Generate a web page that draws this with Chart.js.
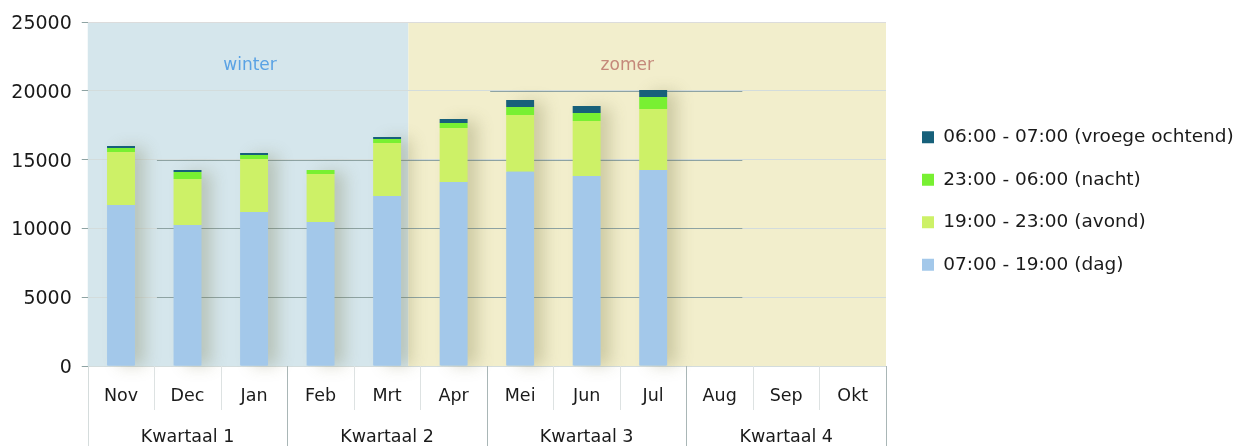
<!DOCTYPE html>
<html><head><meta charset="utf-8">
<script src="https://cdn.jsdelivr.net/npm/chart.js@4/dist/chart.umd.min.js"></script>
<style>html,body{margin:0;padding:0;background:#fff;overflow:hidden}</style>
</head><body>
<canvas id="c" width="1238" height="446"></canvas>
<script>
// ---- data ----
const months = ['Nov','Dec','Jan','Feb','Mrt','Apr','Mei','Jun','Jul','Aug','Sep','Okt'];
const quarters = ['Kwartaal 1','Kwartaal 2','Kwartaal 3','Kwartaal 4'];
const dag    = [11700,10250,11200,10470,12350,13370,14120,13810,14240];
const avond  = [ 3850, 3340, 3840, 3480, 3860, 3930, 4120, 4000, 4440];
const nacht  = [  290,  510,  290,  290,  290,  360,  580,  580,  870];
const vroege = [  150,  140,  150,    0,  140,  290,  510,  510,  510];
const seriesNames = ['07:00 - 19:00 (dag)','19:00 - 23:00 (avond)','23:00 - 06:00 (nacht)','06:00 - 07:00 (vroege ochtend)'];
const yTicks = [0,5000,10000,15000,20000,25000];
const seasonNames = ['winter','zomer'];
const seasonSplit = 4.32;            // category position where winter band ends
const seasonLabelAt = [1.94, 7.61];  // category positions of the season captions
const seasonLabelValue = 21500;      // y value of caption baseline

// ---- styles ----
const FONT = 'DejaVu Sans';
const colors = ['#a3c8ea','#cdf167','#78f032','#17607a'];
const seasonFill = ['#d5e6ec','#f2eecc'];
const seasonText = ['#5aa2e4','#c4887a'];
const darkGrid = [
  {value:5000, from:0.54, to:9.34},
  {value:10000, from:0.54, to:9.34},
  {value:15000, from:0.54, to:9.34},
  {value:20000, from:5.55, to:9.34}
];

Chart.defaults.font.family = FONT;

const bgPlugin = {
  id:'bg',
  beforeDraw(chart){
    const {ctx, chartArea:a, scales:{x,y}} = chart;
    ctx.save();
    const edges = [x.getPixelForValue(-0.5), x.getPixelForValue(seasonSplit), x.getPixelForValue(months.length-0.5)];
    for (let i=0;i<2;i++){
      ctx.fillStyle = seasonFill[i];
      ctx.fillRect(edges[i], a.top, edges[i+1]-edges[i], a.bottom-a.top);
    }
    ctx.font = '17px ' + FONT;
    ctx.textAlign = 'center';
    ctx.textBaseline = 'alphabetic';
    for (let i=0;i<2;i++){
      ctx.fillStyle = seasonText[i];
      ctx.fillText(seasonNames[i], x.getPixelForValue(seasonLabelAt[i]), y.getPixelForValue(seasonLabelValue));
    }
    ctx.restore();
  },
  beforeDatasetsDraw(chart){
    const {ctx, scales:{x,y}} = chart;
    ctx.save();
    ctx.strokeStyle = '#8ea3a3';
    ctx.lineWidth = 1;
    darkGrid.forEach(g=>{
      const py = Math.round(y.getPixelForValue(g.value))+0.5;
      ctx.beginPath();
      ctx.moveTo(x.getPixelForValue(g.from), py);
      ctx.lineTo(x.getPixelForValue(g.to), py);
      ctx.stroke();
    });
    // soft shadows to the right of the stacks
    const m0 = chart.getDatasetMeta(0);
    m0.data.forEach((el,i)=>{
      let top = el.y;
      for (let d=1; d<chart.data.datasets.length; d++){
        const e = chart.getDatasetMeta(d).data[i];
        if (e && chart.data.datasets[d].data[i]) top = Math.min(top, e.y);
      }
      ctx.save();
      ctx.shadowColor = 'rgba(110,110,60,0.28)';
      ctx.shadowBlur = 16;
      ctx.shadowOffsetX = 11;
      ctx.fillStyle = colors[0];
      ctx.fillRect(el.x - el.width/2 + 1, top + 2, el.width - 2, el.base - top - 2);
      ctx.restore();
    });
    ctx.restore();
  },
  afterDraw(chart){
    const {ctx, chartArea:a, scales:{x}} = chart;
    const per = months.length / quarters.length;
    ctx.save();
    ctx.lineWidth = 1;
    for (let i=0;i<=months.length;i++){
      const px = Math.round(x.getPixelForValue(i-0.5))+0.5;
      const isQ = i % per === 0;
      ctx.strokeStyle = isQ ? (i===0 ? '#d5dcdc' : '#a9b6b6') : '#dde2e2';
      ctx.beginPath();
      ctx.moveTo(px, a.bottom);
      ctx.lineTo(px, isQ ? chart.height : a.bottom + 44);
      ctx.stroke();
    }
    ctx.restore();
  }
};

const legendPlugin = {
  id:'legendFix',
  afterInit(chart){
    const lg = chart.legend;
    const orig = lg.fit;
    lg.fit = function(){ orig.call(this); this.width = 352; };
  },
  afterLayout(chart){
    const lg = chart.legend;
    lg.left += 12; lg.right += 12;
    lg.top += 7; lg.bottom += 7;
  }
};

const ds = [dag, avond, nacht, vroege].map((d,i)=>({
  label: seriesNames[i],
  data: d,
  backgroundColor: colors[i],
  borderWidth: 0,
  barPercentage: 0.42,
  categoryPercentage: 1
}));

new Chart(document.getElementById('c'), {
  type:'bar',
  data:{labels: months, datasets: ds},
  plugins:[bgPlugin, legendPlugin],
  options:{
    responsive:false,
    animation:false,
    layout:{padding:{top:22,right:0,bottom:0,left:0}},
    plugins:{
      tooltip:{enabled:false},
      legend:{
        position:'right', fullSize:false, reverse:true, align:'center',
        labels:{boxWidth:12, boxHeight:12, padding:24, color:'#1a1a1a', font:{size:18.5, family:FONT}}
      }
    },
    scales:{
      x:{
        type:'category', stacked:true, offset:true, weight:0,
        grid:{display:false}, border:{display:false},
        ticks:{color:'#1a1a1a', font:{size:17.5}, padding:12, autoSkip:false, maxRotation:0},
        afterFit(s){ s.height = 40; }
      },
      xq:{
        type:'category', labels: quarters, position:'bottom', offset:true, weight:1,
        grid:{display:false}, border:{display:false},
        ticks:{color:'#1a1a1a', font:{size:17.5}, padding:13, autoSkip:false, maxRotation:0},
        afterFit(s){ s.height = 40; }
      },
      y:{
        stacked:true, min:0, max:25000,
        afterBuildTicks(s){ s.ticks = yTicks.map(v=>({value:v})); },
        ticks:{color:'#1a1a1a', font:{size:19}, padding:10, labelOffset:2, callback:v=>String(v)},
        grid:{color:c=> c.tick && c.tick.value===25000 ? '#dcdcdc' : '#d3dcdc', tickLength:6, tickColor:'#8ea3a3'},
        border:{display:false},
        afterFit(s){ s.width = 87.75; }
      }
    }
  }
});
</script>
</body></html>
